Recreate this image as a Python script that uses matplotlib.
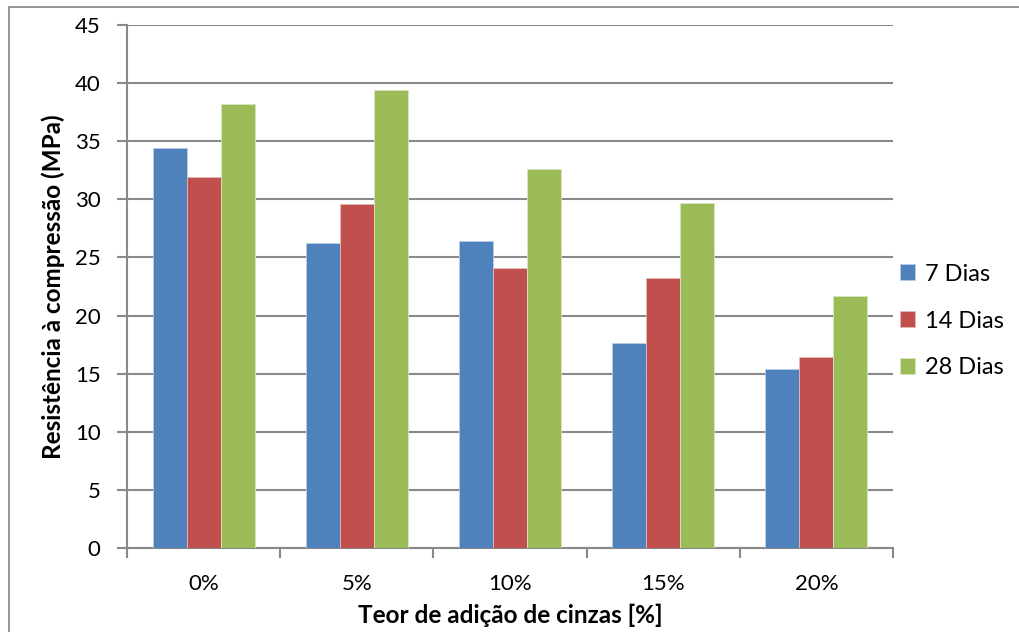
import matplotlib
matplotlib.use("Agg")
import matplotlib.pyplot as plt
import numpy as np
from matplotlib.patches import Rectangle

# data
categories = ["0%", "5%", "10%", "15%", "20%"]
dias_7 = [34.4, 26.2, 26.4, 17.6, 15.4]
dias_14 = [31.9, 29.6, 24.1, 23.2, 16.4]
dias_28 = [38.2, 39.4, 32.6, 29.7, 21.7]
series_labels = ["7 Dias", "14 Dias", "28 Dias"]
y_ticks = [0, 5, 10, 15, 20, 25, 30, 35, 40, 45]

colors = ["#4F81BD", "#C0504D", "#9BBB59"]
edges = ["#B9CDE5", "#E6B9B8", "#D7E4BD"]
grid_color = "#898989"

plt.rcParams["font.family"] = ["Lato", "DejaVu Sans"]
FS = 16
FS_TITLE = 17.5

fig = plt.figure(figsize=(10.19, 6.32), dpi=100)
W, H = 1019, 632
ax = fig.add_axes([127 / W, 1 - 548 / H, (893 - 127) / W, (548 - 25) / H])

# chart border (cut off at right and bottom in the original)
fig.patches.append(Rectangle((9 / W, -0.05), 1.1, 1 - 7 / H + 0.05,
                             transform=fig.transFigure, fill=False,
                             edgecolor="#8C8C8C", linewidth=1.3))

x = np.arange(len(categories))
width = 1 / 4.5
for i, (vals, lab) in enumerate(zip([dias_7, dias_14, dias_28], series_labels)):
    ax.bar(x + (i - 1) * width, vals, width=width, color=colors[i],
           edgecolor=edges[i], linewidth=0.6, label=lab, zorder=3)

ax.set_xlim(-0.5, len(categories) - 0.5)
ax.set_ylim(0, 45)
ax.set_yticks(y_ticks)
ax.yaxis.grid(True, color=grid_color, linewidth=1.5, zorder=0)
ax.tick_params(axis="y", length=7, width=1.5, color=grid_color,
               labelsize=FS, pad=12)

ax.set_xticks(np.arange(-0.5, len(categories)), minor=False)
ax.set_xticklabels([])
ax.set_xticks(x, minor=True)
ax.set_xticklabels(categories, minor=True)
ax.tick_params(axis="x", which="major", length=7, width=1.5, color=grid_color)
ax.tick_params(axis="x", which="minor", length=0, labelsize=FS, pad=19)

for side in ["top", "right"]:
    ax.spines[side].set_visible(False)
for side in ["left", "bottom"]:
    ax.spines[side].set_color(grid_color)
    ax.spines[side].set_linewidth(1.5)

# y title placed explicitly, close to the tick labels as in the original
fig.text(53 / W, 1 - 287 / H, "Resistência à compressão (MPa)",
         rotation=90, ha="center", va="center", fontsize=FS_TITLE,
         fontweight="bold")
ax.set_xlabel("Teor de adição de cinzas [%]", fontsize=FS_TITLE,
              fontweight="bold", labelpad=7)

ax.legend(loc="center left", bbox_to_anchor=(893 / W, 1 - 321 / H),
          bbox_transform=fig.transFigure, frameon=False, fontsize=17,
          handlelength=0.65, handleheight=0.65, handletextpad=0.4,
          labelspacing=1.1, borderaxespad=0, borderpad=0.3)

fig.savefig("out.png", dpi=100)
